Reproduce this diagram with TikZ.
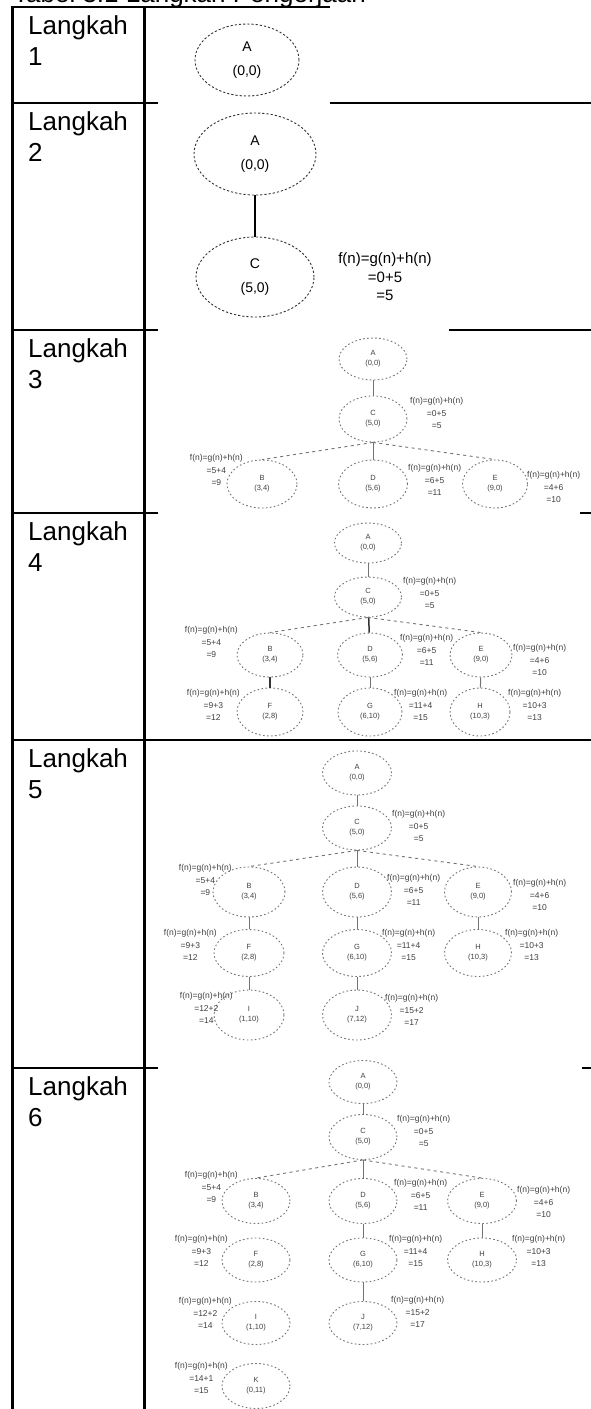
\documentclass[tikz,border=0pt]{standalone}
\usepackage{fontspec}
\setmainfont{Liberation Sans}
\usetikzlibrary{shapes.geometric}
\tikzset{
  tline/.style={line width=2.2pt},
  thinline/.style={line width=1.3pt},
  stepname/.style={anchor=north west, inner sep=0, align=left, font=\fontsize{26}{31}\selectfont},
  bignode/.style={ellipse, draw=black!80, dash pattern=on 2.2pt off 2pt, line width=0.9pt, inner sep=0, align=center, font=\fontsize{14}{24}\selectfont},
  smallnode/.style={ellipse, draw=black!55, dash pattern=on 1.6pt off 2.4pt, line width=0.9pt, inner sep=0, align=center, font=\fontsize{7.5}{10}\selectfont, text=black!75},
  sz/.style 2 args={minimum width=#1pt, minimum height=#2pt},
  biglab/.style={align=center, inner sep=0, font=\fontsize{15}{18.5}\selectfont},
  lab/.style={align=center, inner sep=0, font=\fontsize{8.5}{12.5}\selectfont, text=black!75},
  conn/.style={draw=black!55, line width=1pt},
  fan/.style={draw=black!55, line width=0.9pt, dash pattern=on 3pt off 3.5pt},
}
\newcommand{\fl}[2]{f(n)=g(n)+h(n)\\=#1\\=#2}
\begin{document}
\begin{tikzpicture}[x=1pt,y=-1pt]
\useasboundingbox (0,0) rectangle (591,1409);
\fill[white] (0,0) rectangle (591,1409);
% title, mostly above the page edge: only its lowest pixels show
\begin{scope}
\clip (0,0) rectangle (591,6.5);
\node[anchor=base west, inner sep=0, font=\fontsize{26}{31}\selectfont] (title) at (13,2) {Tabel 3.1 Langkah Pengerjaan};
\end{scope}
% table
\draw[tline] (12.5,6) -- (12.5,1409);
\draw[tline] (144.5,6) -- (144.5,1409);
\draw[tline] (11.4,7) -- (330,7);
\draw[tline] (11.4,103) -- (158,103);
\draw[tline] (330,103) -- (591,103);
\draw[tline] (11.4,330) -- (158,330);
\draw[tline] (449,330) -- (591,330);
\draw[tline] (11.4,513) -- (158,513);
\draw[tline] (580,513) -- (591,513);
\draw[tline] (11.4,740) -- (158,740);
\draw[thinline] (158,740) -- (577,740);
\draw[tline] (577,740) -- (591,740);
\draw[tline] (11.4,1068) -- (158,1068);
\draw[tline] (582,1068) -- (591,1068);
\node[stepname] (s1) at (28,15) {Langkah\\1};
\node[stepname] (s2) at (28,111) {Langkah\\2};
\node[stepname] (s3) at (28,338) {Langkah\\3};
\node[stepname] (s4) at (28,521) {Langkah\\4};
\node[stepname] (s5) at (28,748) {Langkah\\5};
\node[stepname] (s6) at (28,1076) {Langkah\\6};
% step 1
\node[bignode, sz={104}{72}] (a1) at (247,60) {A\\(0,0)};
% step 2
\node[bignode, sz={122}{82}] (a2) at (255,154) {A\\(0,0)};
\node[bignode, sz={118}{80}] (c2) at (255,277) {C\\(5,0)};
\draw[black, line width=1.5pt] (a2) -- (c2);
\node[biglab] (lc2) at (385,277) {\fl{0+5}{5}};
% step 3
\node[smallnode, sz={68}{42}] (a3) at (373,359) {A\\(0,0)};
\node[smallnode, sz={68}{46}] (c3) at (373,419) {C\\(5,0)};
\node[smallnode, sz={70}{48}] (b3) at (262,484) {B\\(3,4)};
\node[smallnode, sz={69}{48}] (d3) at (373,484) {D\\(5,6)};
\node[smallnode, sz={65}{48}] (e3) at (495,484) {E\\(9,0)};
\draw[conn] (a3) -- (c3);
\draw[conn] (c3) -- (d3);
\draw[fan] (c3.south) -- (b3.north);
\draw[fan] (c3.south) -- (e3.north);
\node[lab, anchor=west] (lc3) at (410,413) {\fl{0+5}{5}};
\node[lab, anchor=east] (lb3) at (243,470) {\fl{5+4}{9}};
\node[lab, anchor=west] (ld3) at (408,480) {\fl{6+5}{11}};
\node[lab, anchor=west] (le3) at (527,487) {\fl{4+6}{10}};
% step 4
\node[smallnode, sz={67}{40}] (a4) at (368,543) {A\\(0,0)};
\node[smallnode, sz={67}{40}] (c4) at (368,597) {C\\(5,0)};
\node[smallnode, sz={66}{44}] (b4) at (270,655) {B\\(3,4)};
\node[smallnode, sz={65}{44}] (d4) at (370,655) {D\\(5,6)};
\node[smallnode, sz={62}{44}] (e4) at (481,655) {E\\(9,0)};
\node[smallnode, sz={66}{48}] (f4) at (270,712) {F\\(2,8)};
\node[smallnode, sz={64}{48}] (g4) at (370,712) {G\\(6,10)};
\node[smallnode, sz={60}{48}] (h4) at (480,712) {H\\(10,3)};
\draw[conn] (a4) -- (c4);
\draw[conn, black!80, line width=1.5pt] (c4) -- (d4);
\draw[fan] (c4.south) -- (b4.north);
\draw[fan] (c4.south) -- (e4.north);
\draw[conn, black!80, line width=1.5pt] (b4) -- (f4);
\draw[conn] (d4) -- (g4);
\draw[conn] (e4) -- (h4);
\node[lab, anchor=west] (lc4) at (403,593) {\fl{0+5}{5}};
\node[lab, anchor=east] (lb4) at (238,642) {\fl{5+4}{9}};
\node[lab, anchor=west] (ld4) at (400,650) {\fl{6+5}{11}};
\node[lab, anchor=west] (le4) at (513,660) {\fl{4+6}{10}};
\node[lab, anchor=east] (lf4) at (240,705) {\fl{9+3}{12}};
\node[lab, anchor=west] (lg4) at (394,705) {\fl{11+4}{15}};
\node[lab, anchor=west] (lh4) at (508,705) {\fl{10+3}{13}};
% step 5
\node[smallnode, sz={69}{44}] (a5) at (357,773) {A\\(0,0)};
\node[smallnode, sz={69}{44}] (c5) at (357,828) {C\\(5,0)};
\node[smallnode, sz={72}{50}] (b5) at (249,892) {B\\(3,4)};
\node[smallnode, sz={69}{50}] (d5) at (357,892) {D\\(5,6)};
\node[smallnode, sz={67}{50}] (e5) at (478,892) {E\\(9,0)};
\node[smallnode, sz={70}{47}] (f5) at (249,953) {F\\(2,8)};
\node[smallnode, sz={69}{47}] (g5) at (357,953) {G\\(6,10)};
\node[smallnode, sz={67}{47}] (h5) at (478,953) {H\\(10,3)};
\node[smallnode, sz={70}{50}] (i5) at (249,1015) {I\\(1,10)};
\node[smallnode, sz={69}{50}] (j5) at (357,1015) {J\\(7,12)};
\draw[conn] (a5) -- (c5);
\draw[conn] (c5) -- (d5);
\draw[fan] (c5.south) -- (b5.north);
\draw[fan] (c5.south) -- (e5.north);
\draw[conn] (b5) -- (f5);
\draw[conn] (d5) -- (g5);
\draw[conn] (e5) -- (h5);
\draw[conn] (f5) -- (i5);
\draw[conn] (g5) -- (j5);
\node[lab, anchor=west] (lc5) at (392,826) {\fl{0+5}{5}};
\node[lab, anchor=east] (lb5) at (232,880) {\fl{5+4}{9}};
\node[lab, anchor=west] (ld5) at (387,890) {\fl{6+5}{11}};
\node[lab, anchor=west] (le5) at (513,895) {\fl{4+6}{10}};
\node[lab, anchor=east] (lf5) at (217,945) {\fl{9+3}{12}};
\node[lab, anchor=west] (lg5) at (382,945) {\fl{11+4}{15}};
\node[lab, anchor=west] (lh5) at (505,945) {\fl{10+3}{13}};
\node[lab, anchor=east] (li5) at (233,1008) {\fl{12+2}{14}};
\node[lab, anchor=west] (lj5) at (385,1010) {\fl{15+2}{17}};
% step 6
\node[smallnode, sz={68}{43}] (a6) at (363,1082) {A\\(0,0)};
\node[smallnode, sz={68}{45}] (c6) at (363,1137) {C\\(5,0)};
\node[smallnode, sz={68}{45}] (b6) at (256,1201) {B\\(3,4)};
\node[smallnode, sz={68}{45}] (d6) at (363,1201) {D\\(5,6)};
\node[smallnode, sz={69}{45}] (e6) at (482,1201) {E\\(9,0)};
\node[smallnode, sz={68}{44}] (f6) at (256,1260) {F\\(2,8)};
\node[smallnode, sz={68}{44}] (g6) at (363,1260) {G\\(6,10)};
\node[smallnode, sz={69}{44}] (h6) at (482,1260) {H\\(10,3)};
\node[smallnode, sz={68}{43}] (i6) at (256,1323) {I\\(1,10)};
\node[smallnode, sz={68}{43}] (j6) at (363,1323) {J\\(7,12)};
\node[smallnode, sz={68}{45}] (k6) at (256,1386) {K\\(0,11)};
\draw[conn] (a6) -- (c6);
\draw[conn] (c6) -- (d6);
\draw[fan] (c6.south) -- (b6.north);
\draw[fan] (c6.south) -- (e6.north);
\draw[conn] (d6) -- (g6);
\draw[conn] (e6) -- (h6);
\draw[conn] (g6) -- (j6);
\node[lab, anchor=west] (lc6) at (397,1131) {\fl{0+5}{5}};
\node[lab, anchor=east] (lb6) at (238,1187) {\fl{5+4}{9}};
\node[lab, anchor=west] (ld6) at (394,1195) {\fl{6+5}{11}};
\node[lab, anchor=west] (le6) at (517,1202) {\fl{4+6}{10}};
\node[lab, anchor=east] (lf6) at (228,1251) {\fl{9+3}{12}};
\node[lab, anchor=west] (lg6) at (389,1251) {\fl{11+4}{15}};
\node[lab, anchor=west] (lh6) at (512,1251) {\fl{10+3}{13}};
\node[lab, anchor=east] (li6) at (232,1313) {\fl{12+2}{14}};
\node[lab, anchor=west] (lj6) at (391,1312) {\fl{15+2}{17}};
\node[lab, anchor=east] (lk6) at (228,1378) {\fl{14+1}{15}};
\end{tikzpicture}
\end{document}
